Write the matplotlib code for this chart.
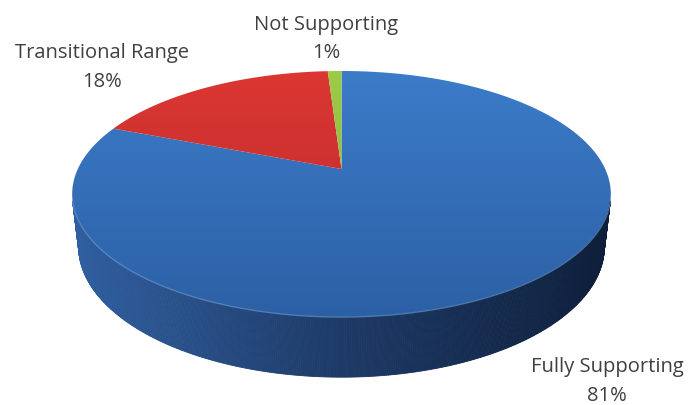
import numpy as np
import matplotlib.pyplot as plt
from matplotlib.patches import Polygon
from matplotlib.colors import LinearSegmentedColormap

labels = ["Fully Supporting", "Transitional Range", "Not Supporting"]
shares = [81, 18, 1]
top_colors = [("#3c7cc9", "#2c60a5"), ("#dc3733", "#b8292a"), ("#9dcc47", "#84b03a")]
side_colors = [("#305fa0", "#1d3a67", "#0e1f3b"),
               ("#a02626", "#7a1c1c", "#4f1212"),
               ("#7ea33a", "#5f7d2b", "#3f541d")]

# (x centre, baseline of name, baseline of percentage)
label_pos = [(607, 372, 401), (102, 58, 87), (326, 30, 58)]

# simple perspective camera for the 3d disc
ELEV = np.radians(27)
DIST = 4.38
HEIGHT = 0.228
CX, CY = 341.5, 170
SX, SY = 1155, 1138


def project(x, y, z):
    depth = y * np.cos(ELEV) - z * np.sin(ELEV) + DIST
    px = CX + SX * x / depth
    py = CY - SY * (y * np.sin(ELEV) + z * np.cos(ELEV)) / depth
    return px, py


total = sum(shares)
cum = np.concatenate([[0], np.cumsum(shares)]) / total * 360.0
# slices start at 12 o'clock and run clockwise
bounds = 90.0 - cum


def slice_of(theta):
    off = (90.0 - theta) % 360.0
    return min(int(np.searchsorted(cum, off, side="right")) - 1, len(shares) - 1)


fig = plt.figure(figsize=(6.89, 4.06), dpi=100)
ax = fig.add_axes([0, 0, 1, 1])
ax.axis("off")

# side wall, only the part facing the camera
alpha = np.degrees(np.arcsin(1.0 / (DIST * np.cos(ELEV))))
side_th = np.linspace(180 + alpha, 360 - alpha, 400)
xl, _ = project(np.cos(np.radians(side_th[0])), np.sin(np.radians(side_th[0])), 0)
xr, _ = project(np.cos(np.radians(side_th[-1])), np.sin(np.radians(side_th[-1])), 0)
side_cmaps = [LinearSegmentedColormap.from_list("s%d" % i, c) for i, c in enumerate(side_colors)]

for t0, t1 in zip(side_th[:-1], side_th[1:]):
    a = np.radians([t0, t1])
    xs, ys = np.cos(a), np.sin(a)
    ptop = [project(xs[k], ys[k], 0) for k in range(2)]
    pbot = [project(xs[k], ys[k], -HEIGHT) for k in (1, 0)]
    mid = 0.5 * (ptop[0][0] + ptop[1][0])
    frac = (mid - xl) / (xr - xl)
    col = side_cmaps[slice_of(0.5 * (t0 + t1))](frac)
    ax.add_patch(Polygon(ptop + pbot, closed=True, facecolor=col,
                         edgecolor=col, linewidth=0.6))

# top face, one gradient-filled wedge per category
apex = project(0, 0, 0)
for i in range(len(shares)):
    th = np.radians(np.linspace(bounds[i], bounds[i + 1], 200))
    pts = [apex] + [project(np.cos(t), np.sin(t), 0) for t in th]
    poly = Polygon(pts, closed=True, facecolor="none", edgecolor="none")
    ax.add_patch(poly)
    grad = np.linspace(0, 1, 256).reshape(-1, 1)
    cmap = LinearSegmentedColormap.from_list("t%d" % i, top_colors[i])
    im = ax.imshow(grad, cmap=cmap, aspect="auto", interpolation="bilinear",
                   extent=(70, 620, 320, 68))
    im.set_clip_path(poly)

# light rim where the top meets the wall
rim_th = np.radians(np.linspace(180 + alpha, 360 - alpha, 300))
rim = np.array([project(np.cos(t), np.sin(t), 0) for t in rim_th])
ax.plot(rim[:, 0], rim[:, 1], color="#6d9fd9", lw=1.0, alpha=0.6)

for (x, y1, y2), name, v in zip(label_pos, labels, shares):
    for y, s in ((y1, name), (y2, "%d%%" % v)):
        ax.text(x, y, s, ha="center", va="baseline", fontsize=14.5,
                family="Open Sans", color="#404040")

ax.set_xlim(0, 689)
ax.set_ylim(406, 0)
fig.savefig("out.png", dpi=100)
